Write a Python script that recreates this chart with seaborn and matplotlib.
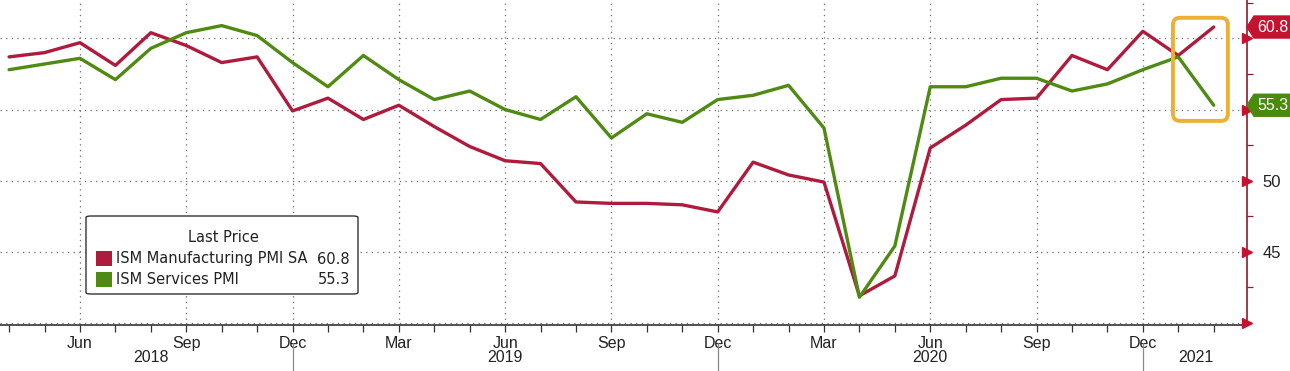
import numpy as np
import pandas as pd
import matplotlib
matplotlib.use("Agg")
import matplotlib.pyplot as plt
import seaborn as sns
from matplotlib.patches import FancyBboxPatch, Rectangle, Polygon
from matplotlib.transforms import blended_transform_factory, IdentityTransform

# ---------------- data ----------------
months = ["2018-04", "2018-05", "2018-06", "2018-07", "2018-08", "2018-09", "2018-10",
          "2018-11", "2018-12", "2019-01", "2019-02", "2019-03", "2019-04", "2019-05",
          "2019-06", "2019-07", "2019-08", "2019-09", "2019-10", "2019-11", "2019-12",
          "2020-01", "2020-02", "2020-03", "2020-04", "2020-05", "2020-06", "2020-07",
          "2020-08", "2020-09", "2020-10", "2020-11", "2020-12", "2021-01", "2021-02"]
manufacturing = [58.7, 59.0, 59.7, 58.1, 60.4, 59.5, 58.3, 58.7, 54.9, 55.8, 54.3, 55.3,
                 53.8, 52.4, 51.4, 51.2, 48.5, 48.4, 48.4, 48.3, 47.8, 51.3, 50.4, 49.9,
                 41.9, 43.3, 52.3, 53.9, 55.7, 55.8, 58.8, 57.8, 60.5, 58.8, 60.8]
services = [57.8, 58.2, 58.6, 57.1, 59.3, 60.4, 60.9, 60.2, 58.3, 56.6, 58.8, 57.1,
            55.7, 56.3, 55.0, 54.3, 55.9, 53.0, 54.7, 54.1, 55.7, 56.0, 56.7, 53.7,
            41.8, 45.4, 56.6, 56.6, 57.2, 57.2, 56.3, 56.8, 57.8, 58.7, 55.3]
series_names = ["ISM Manufacturing PMI SA", "ISM Services PMI"]
last_values = ["60.8", "55.3"]
legend_title = "Last Price"
quarter_months = {"03": "Mar", "06": "Jun", "09": "Sep", "12": "Dec"}
year_labels = ["2018", "2019", "2020", "2021"]
year_label_pos = [4.0, 14.0, 26.0, 33.5]
y_ticks = [40, 45, 50, 55, 60]
y_ticklabels = ["", "45", "50", "", ""]

# ---------------- style ----------------
RED = "#b01a3c"
GREEN = "#4f8a12"
TAG_RED = "#c4122f"
TAG_GREEN = "#4a8a0c"
SPINE_RED = "#8e1a33"
ORANGE = "#eeb030"
GRID = "#6a6a6a"

sns.set_style("white")
tickfont = ["Liberation Sans", "DejaVu Sans"]
plt.rcParams["font.family"] = ["DejaVu Sans"]

W, H = 1290, 371
fig = plt.figure(figsize=(W / 100, H / 100), dpi=100)
ax = fig.add_axes([0, 1 - 325 / H, 1247 / W, 325 / H])

idx = np.arange(len(months))
df = pd.DataFrame({
    "idx": np.concatenate([idx, idx]),
    "value": manufacturing + services,
    "series": [series_names[0]] * len(months) + [series_names[1]] * len(months),
})
sns.lineplot(data=df, x="idx", y="value", hue="series", palette=[RED, GREEN],
             linewidth=2.4, legend=False, ax=ax, zorder=3)

ax.set_xlim(-0.257, 34.94)
ax.set_ylim(39.85, 62.7)
ax.set_xlabel("")
ax.set_ylabel("")

# x ticks
q_idx = [i for i, m in enumerate(months) if m[5:] in quarter_months]
q_lab = [quarter_months[months[i][5:]] for i in q_idx]
ax.set_xticks(q_idx)
ax.set_xticklabels(q_lab, fontfamily=tickfont, fontsize=11.5, color="#222222")
ax.set_xticks(idx, minor=True)
ax.tick_params(axis="x", which="both", direction="out", length=5, width=0.9,
               color="#333333", pad=3, bottom=True)

# y ticks on right
ax.yaxis.tick_right()
ax.set_yticks(y_ticks)
ax.set_yticklabels(y_ticklabels, fontfamily=tickfont, fontsize=12, color="#222222")
ax.set_yticks([42.5, 47.5, 52.5, 57.5, 62.5], minor=True)
ax.tick_params(axis="y", which="major", length=0, pad=11, right=True, left=False)
ax.tick_params(axis="y", which="minor", length=4, width=0.9, color=SPINE_RED,
               right=True, left=False, direction="out")

# spines
for s in ["top", "left"]:
    ax.spines[s].set_visible(False)
ax.spines["right"].set_color(SPINE_RED)
ax.spines["right"].set_linewidth(1.2)
ax.spines["bottom"].set_color("#333333")
ax.spines["bottom"].set_linewidth(1.2)

# grid
ax.grid(True, which="major", axis="both", color=GRID, linestyle=(0, (1, 3.5)),
        linewidth=0.9)

# triangles on right spine
bt = blended_transform_factory(ax.transAxes, ax.transData)
ax.plot([1.0] * len(y_ticks), y_ticks, linestyle="none", marker=">", markersize=7,
        color=TAG_RED, transform=bt, clip_on=False, zorder=5)

# year labels and separators
bft = blended_transform_factory(ax.transData, fig.transFigure)
for lab, p in zip(year_labels, year_label_pos):
    ax.text(p, 1 - 358 / H, lab, transform=bft, ha="center", va="center",
            fontfamily=tickfont, fontsize=11.5, color="#222222", clip_on=False)
for i, m in enumerate(months):
    if m.endswith("-12"):
        ax.plot([i, i], [1 - 343 / H, 0], transform=bft, color="#888888",
                linewidth=0.9, clip_on=False)

fig.canvas.draw()

# value tags (arrow-shaped labels on the right axis)
xs = ax.transAxes.transform((1.0, 0))[0]
for val, col in zip(last_values, [TAG_RED, TAG_GREEN]):
    yc = ax.transData.transform((0, float(val)))[1]
    poly = Polygon([(xs, yc), (xs + 7, yc + 11), (W + 5, yc + 11),
                    (W + 5, yc - 11), (xs + 7, yc - 11)], closed=True,
                   transform=IdentityTransform(), fc=col, ec=col, zorder=10)
    fig.add_artist(poly)
    fig.text((xs + 10) / W, yc / H, val, ha="left", va="center", color="white",
             fontfamily=tickfont, fontsize=11.5, zorder=11)

# highlight box
x0, y0 = ax.transData.transform((32.85, 54.2))
x1, y1 = ax.transData.transform((34.4, 61.45))
hb = FancyBboxPatch((x0, y0), x1 - x0, y1 - y0,
                    boxstyle="round,pad=0,rounding_size=7",
                    transform=IdentityTransform(), fc="none", ec=ORANGE, lw=2.8,
                    zorder=6)
fig.add_artist(hb)

# legend (drawn manually)
def fp(x, y):
    return x / W, 1 - y / H

lb = FancyBboxPatch(fp(86, 294), (358 - 86) / W, (294 - 216) / H,
                    boxstyle="round,pad=0,rounding_size=0.004",
                    transform=fig.transFigure, fc="white", ec="#333333", lw=1.0,
                    zorder=8)
fig.add_artist(lb)
fig.text(*fp(223, 237), legend_title, ha="center", va="center", fontsize=10.5,
         color="#222222", zorder=9)
for k, (name, val, col) in enumerate(zip(series_names, last_values, [RED, GREEN])):
    yc = 259 + 21 * k
    sq = Rectangle(fp(96, yc + 7), 16 / W, 15 / H, transform=fig.transFigure,
                   fc=col, ec="none", zorder=9)
    fig.add_artist(sq)
    fig.text(*fp(116, yc), name, ha="left", va="center", fontsize=10.5,
             color="#222222", zorder=9)
    fig.text(*fp(350, yc), val, ha="right", va="center", fontsize=10.5,
             color="#222222", zorder=9)

fig.savefig("out.png", dpi=100)
